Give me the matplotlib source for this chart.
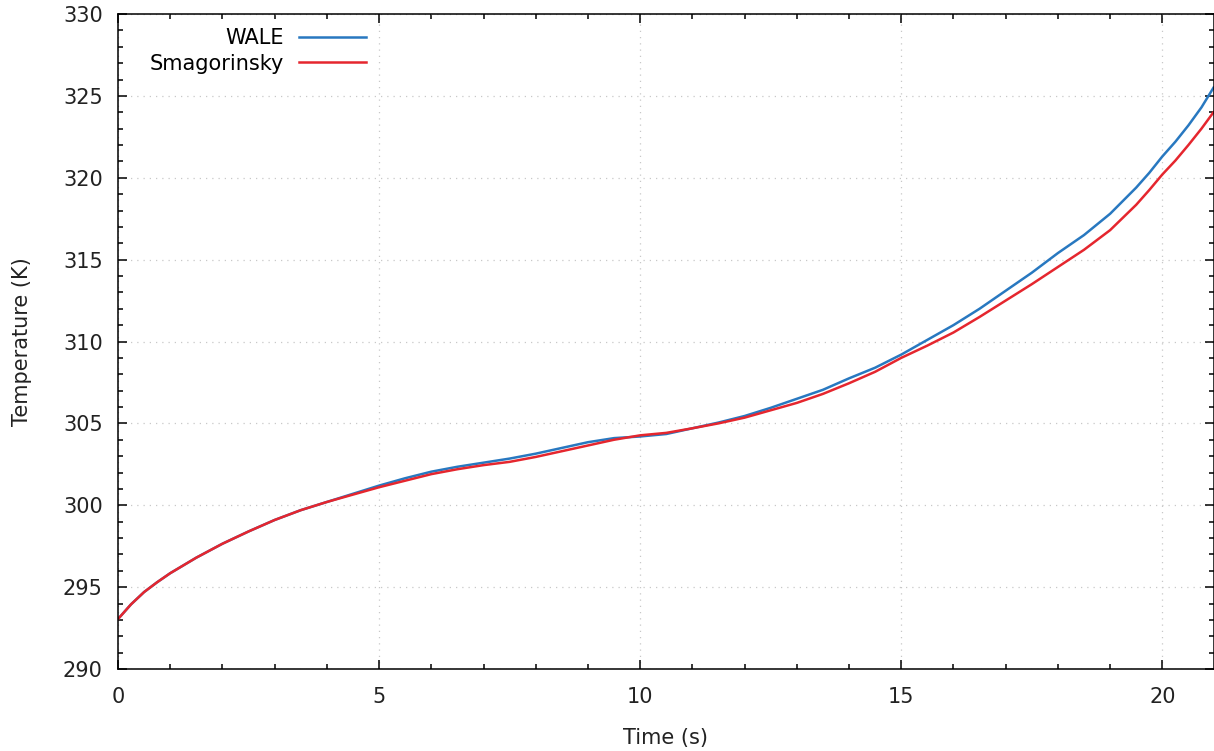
import matplotlib
matplotlib.use('Agg')
import matplotlib.pyplot as plt
from matplotlib.ticker import MultipleLocator
import numpy as np

# Data
time = [0, 0.25, 0.5, 0.75, 1, 1.5, 2, 2.5, 3, 3.5, 4, 4.5, 5, 5.5, 6, 6.5, 7,
        7.5, 8, 8.5, 9, 9.5, 10, 10.5, 11, 11.5, 12, 12.5, 13, 13.5, 14, 14.5,
        15, 15.5, 16, 16.5, 17, 17.5, 18, 18.5, 19, 19.5, 19.75, 20, 20.25,
        20.5, 20.75, 20.98]

T_wale = [293.05, 293.95, 294.7, 295.3, 295.85, 296.8, 297.65, 298.4, 299.1, 299.7,
          300.2, 300.7, 301.2, 301.65, 302.05, 302.35, 302.6, 302.85, 303.15, 303.5,
          303.85, 304.1, 304.2, 304.35, 304.7, 305.05, 305.45, 305.95, 306.5, 307.05,
          307.75, 308.4, 309.2, 310.1, 311.0, 312.0, 313.1, 314.2, 315.4, 316.5,
          317.8, 319.4, 320.3, 321.3, 322.2, 323.2, 324.3, 325.5]

T_smag = [293.05, 293.95, 294.7, 295.3, 295.85, 296.8, 297.65, 298.4, 299.1, 299.7,
          300.2, 300.65, 301.1, 301.5, 301.9, 302.2, 302.45, 302.65, 302.95, 303.3,
          303.65, 304.0, 304.27, 304.42, 304.7, 305.0, 305.35, 305.8, 306.25, 306.8,
          307.45, 308.15, 309.0, 309.75, 310.55, 311.5, 312.5, 313.5, 314.55, 315.6,
          316.8, 318.35, 319.25, 320.2, 321.05, 322.0, 323.0, 324.0]

labels = ['WALE', 'Smagorinsky']
colors = ['#2878c0', '#e5262e']

plt.rcParams['font.family'] = 'DejaVu Sans'
plt.rcParams['font.size'] = 15

fig = plt.figure(figsize=(12.14, 7.51), dpi=100)
ax = fig.add_axes([118 / 1214, 1 - 669 / 751, 1095.5 / 1214, 655 / 751])

ax.plot(time, T_wale, color=colors[0], lw=1.8, label=labels[0])
ax.plot(time, T_smag, color=colors[1], lw=1.8, label=labels[1])

ax.set_xlim(0, 20.98)
ax.set_ylim(290, 330)
ax.xaxis.set_major_locator(MultipleLocator(5))
ax.xaxis.set_minor_locator(MultipleLocator(1))
ax.yaxis.set_major_locator(MultipleLocator(5))
ax.yaxis.set_minor_locator(MultipleLocator(1))

ax.tick_params(which='both', direction='in', top=True, right=True,
               colors='black', labelcolor='#222222', width=1.1)
ax.tick_params(which='major', length=6.5, pad=11)
ax.tick_params(which='minor', length=3.5)
ax.tick_params(axis='x', which='major', pad=13)

for sp in ax.spines.values():
    sp.set_linewidth(1.1)
    sp.set_color('black')

ax.grid(True, which='major', color='#c8c8c8', linestyle=(0, (1, 4)), lw=0.9)

ax.set_xlabel('Time (s)', color='#222222', labelpad=15)
ax.set_ylabel('Temperature (K)', color='#222222', labelpad=22)

ax.legend(loc='upper right', bbox_to_anchor=(0.2265, 0.978), frameon=False,
          markerfirst=False, handlelength=3.2, handletextpad=0.75,
          labelspacing=0.25, borderpad=0, borderaxespad=0)

fig.savefig('out.png', dpi=100)
